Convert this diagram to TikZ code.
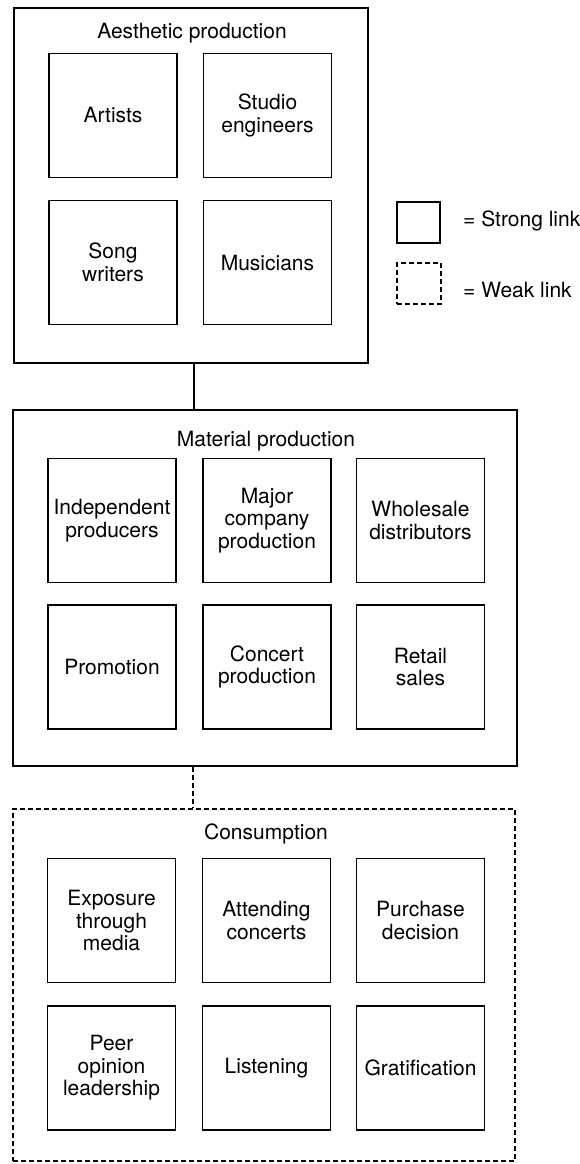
\documentclass[tikz,border=0pt]{standalone}
\usepackage{fontspec}
\setmainfont{TeX Gyre Heros}
\usetikzlibrary{positioning}

\tikzset{
	stage/.style={draw, line width=1.3pt, inner sep=0pt},
	weakstage/.style={stage, dash pattern=on 5pt off 3pt},
	unit/.style={draw, line width=1.3pt, align=center, inner sep=0pt,
		minimum width=128pt, minimum height=124pt},
	heading/.style={inner sep=0pt}
}

\begin{document}
\begin{tikzpicture}[x=1pt, y=-1pt,
	font=\fontsize{21}{22.5}\selectfont]
\useasboundingbox[fill=white] (0,0) rectangle (580,1164);

% aesthetic production
\node[stage, minimum width=354pt, minimum height=355pt] (aest) at (191,185.5) {};
\node[heading] (aesttitle) at (192,33) {Aesthetic production};
\node[unit] (artists) at (113,115.5) {Artists};
\node[unit] (studio) at (267.5,115.5) {Studio\\engineers};
\node[unit] (songwriters) at (113,262.5) {Song\\writers};
\node[unit] (musicians) at (267.5,262.5) {Musicians};

% legend
\node[stage, minimum width=43pt, minimum height=41pt] (strongkey) at (418.5,222.5) {};
\node[heading, anchor=west] (strongtext) at (463,221) {= Strong link};
\node[weakstage, minimum width=44pt, minimum height=41pt] (weakkey) at (419,283.5) {};
\node[heading, anchor=west] (weaktext) at (463,290) {= Weak link};

% material production
\node[stage, minimum width=504pt, minimum height=356pt] (mat) at (265,588) {};
\node[heading] (mattitle) at (266,441) {Material production};
\node[unit] (indep) at (112,520.5) {Independent\\producers};
\node[unit] (major) at (267,520.5) {Major\\company\\production};
\node[unit] (wholesale) at (420.5,520.5) {Wholesale\\distributors};
\node[unit] (promo) at (112,667) {Promotion};
\node[unit] (concertprod) at (267,667) {Concert\\production};
\node[unit] (retail) at (420.5,667) {Retail\\sales};

% consumption
\node[weakstage, minimum width=502pt, minimum height=352pt] (cons) at (264,985) {};
\node[heading] (constitle) at (266,834) {Consumption};
\node[unit] (exposure) at (111.5,920.5) {Exposure\\through\\media};
\node[unit] (attending) at (266.5,920.5) {Attending\\concerts};
\node[unit] (purchase) at (420.5,920.5) {Purchase\\decision};
\node[unit] (peer) at (111.5,1068) {Peer\\opinion\\leadership};
\node[unit] (listening) at (266.5,1068) {Listening};
\node[unit] (gratif) at (420.5,1068) {Gratification};

% links between stages
\draw[line width=1.3pt] ([xshift=3pt]aest.south) -- ([xshift=3pt]aest.south |- mat.north);
\draw[line width=1.3pt, dash pattern=on 5pt off 3pt] ([xshift=-72pt]mat.south) -- ([xshift=-72pt]mat.south |- cons.north);
\end{tikzpicture}
\end{document}
